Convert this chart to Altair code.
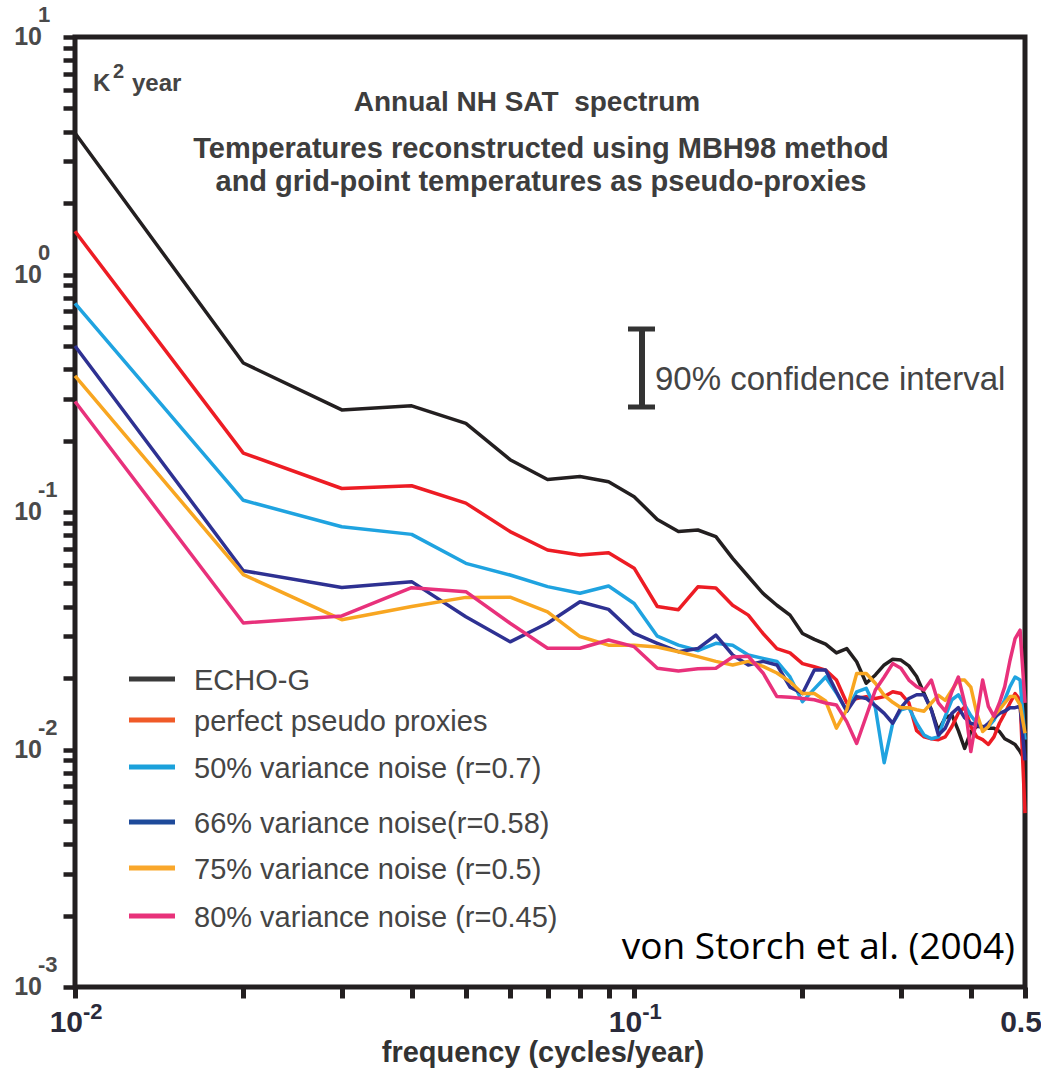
import altair as alt
import pandas as pd

# ---------------- data ----------------
FREQ = [0.01, 0.02, 0.03, 0.04, 0.05, 0.06, 0.07, 0.08, 0.09, 0.10,
        0.11, 0.12, 0.13, 0.14, 0.15, 0.16, 0.17, 0.18, 0.19, 0.20,
        0.21, 0.22, 0.23, 0.24, 0.25, 0.26, 0.27, 0.28, 0.29, 0.30,
        0.31, 0.32, 0.33, 0.34, 0.35, 0.36, 0.37, 0.38, 0.39, 0.40,
        0.41, 0.42, 0.43, 0.44, 0.45, 0.46, 0.47, 0.48, 0.49, 0.50]

ECHO_G = [3.94, 0.424, 0.269, 0.280, 0.236, 0.166, 0.137, 0.141, 0.134, 0.116,
          0.093, 0.0827, 0.084, 0.0788, 0.0638, 0.0535, 0.0454, 0.0405, 0.0368, 0.0308,
          0.0291, 0.0278, 0.0255, 0.0266, 0.0234, 0.0190, 0.0206, 0.0227, 0.0240, 0.0238,
          0.0225, 0.0203, 0.0172, 0.0147, 0.0120, 0.0136, 0.0140, 0.0120, 0.0101, 0.0119,
          0.0125, 0.0125, 0.0123, 0.0123, 0.0119, 0.0111, 0.0108, 0.0105, 0.0098, 0.0090]

PERFECT = [1.52, 0.177, 0.1256, 0.129, 0.109, 0.0827, 0.0692, 0.0659, 0.0674, 0.058,
           0.040, 0.0388, 0.0484, 0.0479, 0.0405, 0.0368, 0.0308, 0.0266, 0.0255, 0.0230,
           0.0223, 0.0216, 0.0196, 0.0157, 0.0164, 0.0167, 0.0164, 0.0167, 0.0175, 0.0172,
           0.0157, 0.0120, 0.0113, 0.0111, 0.0110, 0.0113, 0.0125, 0.0142, 0.0151, 0.0125,
           0.0113, 0.0110, 0.0105, 0.0113, 0.0129, 0.0142, 0.0157, 0.0172, 0.0162, 0.0054]

NOISE50 = [0.756, 0.112, 0.0867, 0.0805, 0.0608, 0.0543, 0.0485, 0.0455, 0.0488, 0.0412,
           0.030, 0.0275, 0.0261, 0.028, 0.0275, 0.025, 0.0242, 0.0235, 0.0202, 0.0159,
           0.018, 0.0202, 0.0173, 0.0145, 0.0175, 0.0181, 0.015, 0.0088, 0.0129, 0.0147,
           0.015, 0.0129, 0.0115, 0.0111, 0.0113, 0.0138, 0.0162, 0.017, 0.0154, 0.0139,
           0.0129, 0.0123, 0.0125, 0.0133, 0.0147, 0.0162, 0.0184, 0.0202, 0.0196, 0.011]

NOISE66 = [0.50, 0.0566, 0.0481, 0.0509, 0.0362, 0.0284, 0.034, 0.0419, 0.0389, 0.0308,
           0.028, 0.0258, 0.0266, 0.0303, 0.025, 0.0227, 0.0235, 0.0227, 0.0183, 0.0172,
           0.0216, 0.0216, 0.0175, 0.0145, 0.0167, 0.0164, 0.0153, 0.0142, 0.0129, 0.015,
           0.0164, 0.017, 0.017, 0.0147, 0.0115, 0.0123, 0.0142, 0.015, 0.0136, 0.0129,
           0.0127, 0.0123, 0.0129, 0.0136, 0.0142, 0.0145, 0.015, 0.015, 0.0152, 0.009]

NOISE75 = [0.374, 0.0545, 0.0352, 0.040, 0.0437, 0.0438, 0.038, 0.0299, 0.0275, 0.0275,
           0.027, 0.0258, 0.0246, 0.0235, 0.0227, 0.0235, 0.0224, 0.021, 0.0193, 0.0172,
           0.0172, 0.016, 0.0123, 0.0147, 0.0209, 0.0209, 0.019, 0.0169, 0.0158, 0.015,
           0.015, 0.0147, 0.0145, 0.0157, 0.0169, 0.0161, 0.0178, 0.0196, 0.0196, 0.0183,
           0.0142, 0.0119, 0.0125, 0.0139, 0.0147, 0.0157, 0.0167, 0.0167, 0.0154, 0.0117]

NOISE80 = [0.292, 0.0341, 0.0365, 0.048, 0.0462, 0.034, 0.0267, 0.0267, 0.0289, 0.0271,
           0.022, 0.0214, 0.0219, 0.022, 0.0245, 0.0247, 0.021, 0.0167, 0.0166, 0.0164,
           0.0162, 0.0157, 0.0154, 0.0131, 0.0106, 0.0138, 0.0178, 0.0202, 0.023, 0.022,
           0.0196, 0.0184, 0.0178, 0.0196, 0.0157, 0.0145, 0.0175, 0.0202, 0.0157, 0.0098,
           0.0138, 0.0196, 0.0152, 0.0138, 0.0157, 0.0184, 0.0237, 0.0293, 0.0318, 0.0157]

SERIES = ["ECHO-G", "perfect pseudo proxies", "50% variance noise (r=0.7)",
          "66% variance noise(r=0.58)", "75% variance noise (r=0.5)",
          "80% variance noise (r=0.45)"]
VALUES = [ECHO_G, PERFECT, NOISE50, NOISE66, NOISE75, NOISE80]

LINE_COLORS = ["#231f20", "#ed1c24", "#1fa3e0", "#2e3192", "#f8a621", "#e8317b"]
LEGEND_COLORS = ["#3a3a3a", "#f05a28", "#1ba1db", "#1e4a9a", "#f9a72b", "#e8327a"]

Y_LABEL_VALUES = [10, 1, 0.1, 0.01, 0.001]
Y_LABEL_EXP = ["1", "0", "-1", "-2", "-3"]
X_LABEL_VALUES = [0.01, 0.1]
X_LABEL_EXP = ["-2", "-1"]

X_TICKS = [0.01, 0.02, 0.03, 0.04, 0.05, 0.06, 0.07, 0.08, 0.09, 0.1,
           0.2, 0.3, 0.4, 0.5]
Y_TICKS = [m * 10.0 ** e for e in (-3, -2, -1, 0) for m in range(1, 10)] + [10.0]

# ---------------- layout / style ----------------
INK = "#231f20"
GREY = "#3d3d3d"
W, H = 950, 950
LEGEND_ROW_Y = [642, 683, 730, 785, 831, 879]

X_ENC = alt.X("freq:Q",
              scale=alt.Scale(type="log", domain=[0.01, 0.5], nice=False),
              axis=alt.Axis(values=X_TICKS, labels=False, title=None, grid=False,
                            domain=False, tickSize=11, tickWidth=5, tickColor=INK))
Y_ENC = alt.Y("value:Q",
              scale=alt.Scale(type="log", domain=[0.001, 10], nice=False),
              axis=alt.Axis(values=Y_TICKS, labels=False, title=None, grid=False,
                            domain=False, tickSize=12, tickWidth=4.5, tickColor=INK))

layers = []

# spectra
for name, vals, col in zip(SERIES, VALUES, LINE_COLORS):
    df = pd.DataFrame({"freq": FREQ, "value": vals, "series": name})
    layers.append(
        alt.Chart(df).mark_line(color=col, strokeWidth=3.5, strokeJoin="round")
        .encode(x=X_ENC, y=Y_ENC, detail="series:N")
    )

# y-axis tick labels (10 with exponent)
ylab = pd.DataFrame({"value": Y_LABEL_VALUES, "base": ["10"] * 5, "exp": Y_LABEL_EXP})
layers.append(
    alt.Chart(ylab).mark_text(align="right", baseline="middle", fontSize=25,
                              fontWeight="bold", color="#4a4a4a",
                              font="Liberation Sans")
    .encode(y=Y_ENC, x=alt.value(-33), text="base:N")
)
layers.append(
    alt.Chart(ylab).mark_text(align="left", baseline="middle", fontSize=22,
                              fontWeight="bold", color="#4a4a4a", dy=-22,
                              font="Liberation Sans")
    .encode(y=Y_ENC, x=alt.value(-37), text="exp:N")
)

# x-axis tick labels
xlab = pd.DataFrame({"freq": X_LABEL_VALUES, "base": ["10", "10"], "exp": X_LABEL_EXP})
layers.append(
    alt.Chart(xlab).mark_text(align="right", baseline="middle", fontSize=30,
                              fontWeight="bold", color="#2a2a3a", dx=8,
                              font="Liberation Sans Narrow, Liberation Sans")
    .encode(x=X_ENC, y=alt.value(986), text="base:N")
)
layers.append(
    alt.Chart(xlab).mark_text(align="left", baseline="middle", fontSize=22,
                              fontWeight="bold", color="#2a2a3a", dx=8, dy=-11,
                              font="Liberation Sans Narrow, Liberation Sans")
    .encode(x=X_ENC, y=alt.value(986), text="exp:N")
)
xlab2 = pd.DataFrame({"freq": [0.5], "txt": ["0.5"]})
layers.append(
    alt.Chart(xlab2).mark_text(align="center", baseline="middle", fontSize=30,
                               fontWeight="bold", color="#2a2a3a", dx=-4,
                               font="Liberation Sans Narrow, Liberation Sans")
    .encode(x=X_ENC, y=alt.value(986), text="txt:N")
)

def label(txt, x, y, size, weight="bold", color=GREY, align="left",
          baseline="middle", font="Liberation Sans"):
    return alt.Chart(pd.DataFrame({"t": [txt]})).mark_text(
        align=align, baseline=baseline, fontSize=size, fontWeight=weight,
        color=color, font=font
    ).encode(x=alt.value(x), y=alt.value(y), text="t:N")

# axis title
layers.append(label("frequency (cycles/year)", 468, 1016, 29, align="center",
                    color="#333333",
                    font="Liberation Sans Narrow, Liberation Sans"))

# titles in the plot
layers.append(label("Annual NH SAT\u00a0 spectrum", 452, 66, 28, align="center"))
layers.append(label("Temperatures reconstructed using MBH98 method", 466, 112, 29,
                    align="center"))
layers.append(label("and grid-point temperatures as pseudo-proxies", 466, 145, 29,
                    align="center"))

# unit label K^2 year
layers.append(label("K", 18, 54, 24, baseline="alphabetic", color="#444444"))
layers.append(label("2", 38, 41, 20, baseline="alphabetic", color="#444444"))
layers.append(label("year", 57, 54, 24, baseline="alphabetic", color="#444444"))

# confidence interval marker
layers.append(alt.Chart(pd.DataFrame({"a": [0]})).mark_rule(color="#333333", strokeWidth=6)
              .encode(x=alt.value(567), y=alt.value(292), y2=alt.value(370)))
layers.append(alt.Chart(pd.DataFrame({"a": [0]})).mark_rule(color="#333333", strokeWidth=5)
              .encode(x=alt.value(553), x2=alt.value(580), y=alt.value(292)))
layers.append(alt.Chart(pd.DataFrame({"a": [0]})).mark_rule(color="#333333", strokeWidth=5)
              .encode(x=alt.value(553), x2=alt.value(580), y=alt.value(370)))
layers.append(label("90% confidence interval", 580, 343, 33, weight="normal",
                    color="#444444"))

# legend (drawn by hand)
for name, col, ly in zip(SERIES, LEGEND_COLORS, LEGEND_ROW_Y):
    layers.append(alt.Chart(pd.DataFrame({"a": [0]})).mark_rule(color=col, strokeWidth=5)
                  .encode(x=alt.value(54), x2=alt.value(100), y=alt.value(ly)))
    layers.append(label(name, 119, ly + 2, 29, weight="normal", color="#454545"))

# citation
layers.append(label("von Storch et al. (2004)", 940, 911, 37, weight="normal",
                    color="#000000", align="right", font="Open Sans"))

chart = alt.layer(*layers).properties(
    width=W, height=H,
    autosize=alt.AutoSizeParams(type="none"),
    padding={"left": 75, "top": 37, "right": 16, "bottom": 82},
    background="white",
).configure_view(stroke=INK, strokeWidth=5)

chart.save("out.html", embed_options={"renderer": "svg", "actions": False})
